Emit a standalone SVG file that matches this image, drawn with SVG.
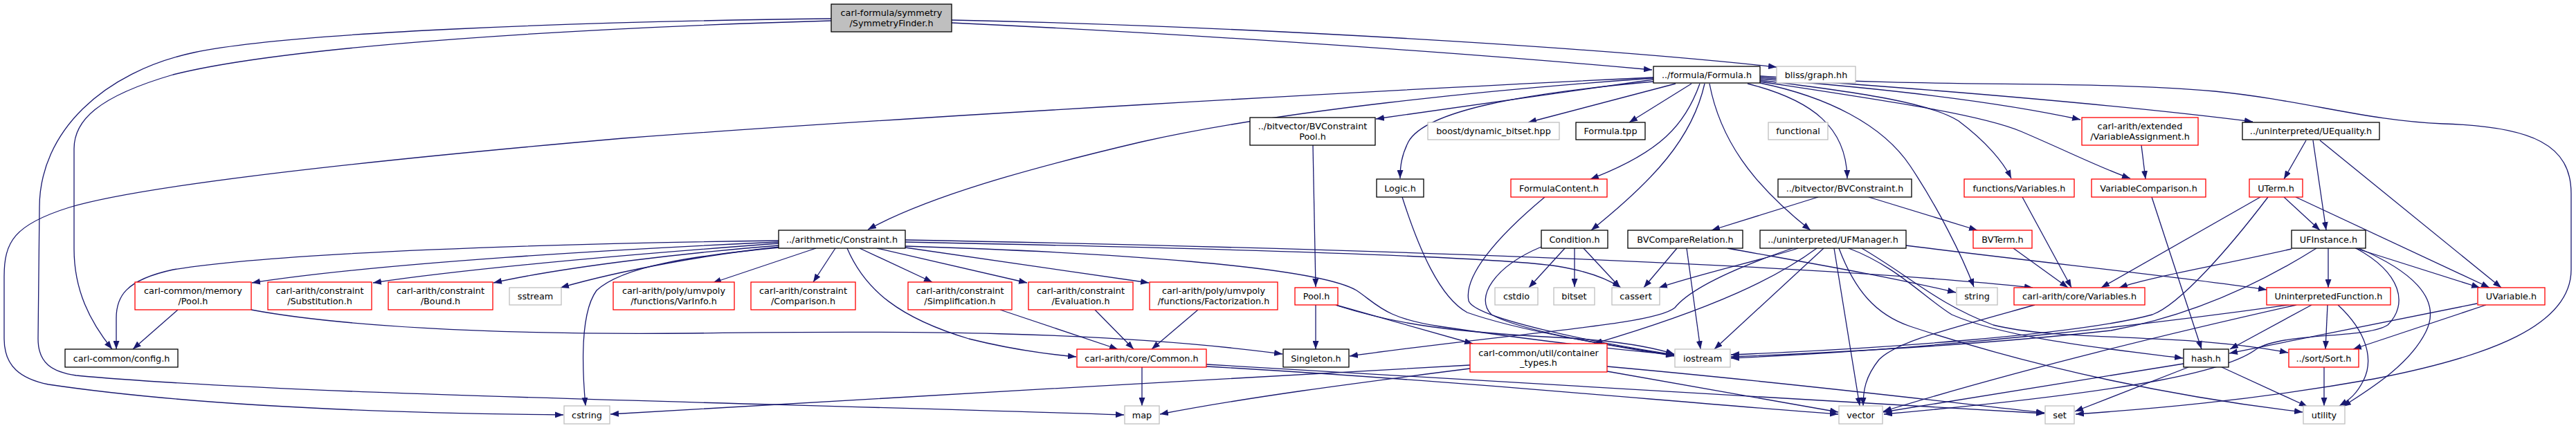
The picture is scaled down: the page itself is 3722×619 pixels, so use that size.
<svg xmlns="http://www.w3.org/2000/svg" width="3722" height="619" viewBox="0 0 3722 619">
<style>
rect{stroke-width:1.3}
.b rect{fill:#fff;stroke:#000}
.g rect{fill:#fff;stroke:#bfbfbf}
.r rect{fill:#fff;stroke:#f00}
.s rect{fill:#bfbfbf;stroke:#000}
text{font-family:"DejaVu Sans","Liberation Sans",sans-serif;font-size:12.8px;text-anchor:middle;fill:#000}
#edges path{fill:none;stroke:#191970;stroke-width:1.3;marker-end:url(#a)}
</style>
<defs>
<marker id="a" markerWidth="12" markerHeight="9" refX="12" refY="4.5" orient="auto" markerUnits="userSpaceOnUse">
<path d="M0,0 L12,4.5 L0,9 z" fill="#191970"/>
</marker>
</defs>
<rect x="0" y="0" width="3722" height="619" fill="#fff" style="stroke:none"/>
<g id="edges">
<path d="M1375,33 C1700,48 2100,75 2387,101"/>
<path d="M1375,29 C1800,38 2300,68 2567,97"/>
<path d="M1201,30 C850,40 420,65 250,108 C140,140 107,175 107,215 L107,360 C107,420 130,465 162,505"/>
<path d="M1201,27 C850,31 420,46 280,76 C150,104 57,190 57,300 L55,490 C55,525 75,538 110,543 C400,570 1000,580 1624,600"/>
<path d="M2389,112 C2000,130 1300,170 900,200 C500,235 200,270 100,300 C20,325 6,350 6,400 L6,490 C6,530 30,548 70,556 C300,590 600,598 814,600"/>
<path d="M2389,113 C2150,130 1850,160 1650,205 C1480,245 1340,285 1254,332"/>
<path d="M2389,115 L1988,172"/>
<path d="M2389,118 C2200,135 2060,160 2035,205 C2025,225 2023,240 2023,258"/>
<path d="M2421,121 L2208,177"/>
<path d="M2444,121 L2354,177"/>
<path d="M2456,121 C2435,180 2400,220 2298,259"/>
<path d="M2463,121 C2445,200 2390,260 2299,333"/>
<path d="M2470,121 C2485,200 2530,265 2616,333"/>
<path d="M2525,121 C2620,145 2668,185 2669,258"/>
<path d="M2543,120 C2640,140 2720,180 2760,240 C2800,300 2835,370 2852,415"/>
<path d="M2543,116 C2700,135 2790,150 2830,175 C2870,205 2895,235 2906,258"/>
<path d="M2543,118 C2720,145 2860,165 2920,190 C2990,220 3040,245 3078,258"/>
<path d="M2543,114 C2750,130 2900,150 3006,173"/>
<path d="M2543,112 C2800,130 3050,150 3255,176"/>
<path d="M2543,110 C2800,128 3000,115 3200,132 C3330,145 3420,175 3530,179 C3660,183 3715,210 3715,280 L3715,390 C3715,470 3600,515 3430,548 C3250,580 3100,592 2999,599"/>
<path d="M1897,210 L1901,415"/>
<path d="M2026,285 C2050,360 2080,430 2120,452 C2200,480 2330,500 2419,514"/>
<path d="M2232,285 C2160,345 2115,400 2122,435 C2130,460 2300,495 2419,513"/>
<path d="M2227,357 C2160,385 2130,430 2155,455 C2200,480 2330,500 2419,515"/>
<path d="M2261,359 L2209,416"/>
<path d="M2275,359 L2275,415"/>
<path d="M2288,359 L2341,416"/>
<path d="M2423,359 L2375,416"/>
<path d="M2437,359 L2457,505"/>
<path d="M2496,359 C2600,378 2720,398 2826,423"/>
<path d="M2598,359 C2550,375 2460,395 2397,416"/>
<path d="M2590,359 C2500,390 2440,420 2420,445 C2390,470 2200,480 1950,515"/>
<path d="M2625,359 C2570,400 2480,445 2303,497"/>
<path d="M2635,359 L2477,505"/>
<path d="M2650,359 L2687,587"/>
<path d="M2657,359 C2680,420 2710,455 2760,472 C2950,535 3150,575 3327,596"/>
<path d="M2671,359 C2740,385 2780,430 2820,455 C2900,490 3050,505 3154,518"/>
<path d="M2690,359 C2760,400 2800,440 2880,470 C2980,495 3150,480 3306,510"/>
<path d="M2754,355 C2950,380 3150,400 3275,419"/>
<path d="M1901,441 L1901,505"/>
<path d="M1930,441 L2128,497"/>
<path d="M1932,442 C2020,470 2100,480 2250,488 C2330,492 2380,500 2419,512"/>
<path d="M257,448 L192,505"/>
<path d="M363,448 C480,470 700,485 1000,482 C1300,478 1600,478 1853,512"/>
<path d="M1125,348 C800,352 400,365 250,390 C180,405 168,430 168,460 L168,505"/>
<path d="M1125,350 C900,360 550,380 364,409"/>
<path d="M1125,352 C950,365 700,385 539,409"/>
<path d="M1125,355 C1000,365 820,385 713,409"/>
<path d="M1127,357 C1030,367 900,390 810,416"/>
<path d="M1126,358 C1000,370 900,385 862,420 C840,450 840,520 846,587"/>
<path d="M1179,359 L1030,409"/>
<path d="M1207,359 L1175,408"/>
<path d="M1242,359 L1347,408"/>
<path d="M1267,359 L1484,409"/>
<path d="M1308,358 L1660,409"/>
<path d="M1224,359 C1250,420 1300,460 1400,490 C1460,505 1510,512 1555,516"/>
<path d="M1308,350 C1700,358 2150,370 2250,385 C2300,393 2325,405 2342,416"/>
<path d="M1308,347 C1900,358 2600,380 2937,416"/>
<path d="M1308,356 C1600,365 1900,385 1960,420 C1990,440 2000,460 2080,472 C2200,490 2330,505 2419,513"/>
<path d="M1445,448 L1615,505"/>
<path d="M1582,448 L1638,505"/>
<path d="M1731,448 L1664,505"/>
<path d="M1650,531 L1650,587"/>
<path d="M1743,530 C2100,550 2400,580 2656,599"/>
<path d="M1743,527 C2200,550 2600,578 2954,598"/>
<path d="M2322,537 L2656,596"/>
<path d="M2322,530 C2600,555 2800,580 2954,597"/>
<path d="M2124,528 C1800,546 1200,580 882,599"/>
<path d="M2124,533 C1950,555 1800,575 1676,599"/>
<path d="M2940,441 C2800,480 2740,495 2715,520 C2695,545 2692,565 2692,587"/>
<path d="M2909,359 L2988,416"/>
<path d="M2922,285 L2993,416"/>
<path d="M3266,285 L3036,416"/>
<path d="M3311,360 C3200,385 3110,400 3062,416"/>
<path d="M2627,285 L2473,333"/>
<path d="M2700,285 L2857,333"/>
<path d="M3094,210 L3100,259"/>
<path d="M3109,285 L3181,505"/>
<path d="M3332,203 L3300,259"/>
<path d="M3342,203 L3361,333"/>
<path d="M3352,203 L3614,416"/>
<path d="M3300,285 L3352,333"/>
<path d="M3317,285 L3597,416"/>
<path d="M3277,285 C3220,360 3150,440 3110,455 C3000,485 2700,505 2501,513"/>
<path d="M3347,359 C3250,420 3150,460 3050,478 C2850,500 2650,510 2501,516"/>
<path d="M3364,359 L3364,416"/>
<path d="M3403,359 L3583,416"/>
<path d="M3408,359 C3480,390 3530,430 3505,480 C3480,530 3420,565 3385,588"/>
<path d="M3404,359 C3470,395 3480,440 3450,470 C3420,490 3300,480 3260,505 C3220,535 3100,565 2722,599"/>
<path d="M3307,441 C3100,470 2800,505 2501,518"/>
<path d="M3318,441 C3100,490 2900,540 2721,595"/>
<path d="M3340,441 L3222,505"/>
<path d="M3363,441 L3360,505"/>
<path d="M3378,441 C3420,480 3430,520 3415,550 C3405,570 3395,578 3380,587"/>
<path d="M3579,439 L3221,511"/>
<path d="M3592,441 L3400,505"/>
<path d="M3155,526 L2721,596"/>
<path d="M3162,531 L2998,595"/>
<path d="M3210,531 L3334,588"/>
<path d="M3358,531 L3358,587"/>
</g>
<g id="n1" class="s"><rect x="1201" y="6" width="174" height="40"/><text x="1288" y="23.3">carl-formula/symmetry</text><text x="1288" y="37.6">/SymmetryFinder.h</text></g>
<g id="n2" class="b"><rect x="2389" y="96" width="154" height="24"/><text x="2466" y="112.6">../formula/Formula.h</text></g>
<g id="n3" class="g"><rect x="2567" y="96" width="114" height="24"/><text x="2624" y="112.6">bliss/graph.hh</text></g>
<g id="n4" class="b"><rect x="1806" y="170" width="181" height="40"/><text x="1896.5" y="187.3">../bitvector/BVConstraint</text><text x="1896.5" y="201.6">Pool.h</text></g>
<g id="n5" class="g"><rect x="2063" y="177" width="190" height="25"/><text x="2158" y="194">boost/dynamic_bitset.hpp</text></g>
<g id="n6" class="b"><rect x="2277" y="177" width="100" height="25"/><text x="2327" y="194">Formula.tpp</text></g>
<g id="n7" class="g"><rect x="2555" y="177" width="86" height="25"/><text x="2598" y="194">functional</text></g>
<g id="n8" class="b"><rect x="2569" y="259" width="193" height="26"/><text x="2665.5" y="276.6">../bitvector/BVConstraint.h</text></g>
<g id="n9" class="b"><rect x="1989" y="259" width="68" height="26"/><text x="2023" y="276.6">Logic.h</text></g>
<g id="n10" class="r"><rect x="2183" y="259" width="139" height="26"/><text x="2252.5" y="276.6">FormulaContent.h</text></g>
<g id="n11" class="r"><rect x="3008" y="170" width="168" height="40"/><text x="3092" y="187.3">carl-arith/extended</text><text x="3092" y="201.6">/VariableAssignment.h</text></g>
<g id="n12" class="b"><rect x="3240" y="177" width="198" height="25"/><text x="3339" y="194">../uninterpreted/UEquality.h</text></g>
<g id="n13" class="r"><rect x="2838" y="259" width="159" height="26"/><text x="2917.5" y="276.6">functions/Variables.h</text></g>
<g id="n14" class="r"><rect x="3022" y="259" width="165" height="26"/><text x="3104.5" y="276.6">VariableComparison.h</text></g>
<g id="n15" class="r"><rect x="3250" y="259" width="77" height="26"/><text x="3288.5" y="276.6">UTerm.h</text></g>
<g id="n16" class="r"><rect x="195" y="408" width="168" height="40"/><text x="279" y="425.3">carl-common/memory</text><text x="279" y="439.6">/Pool.h</text></g>
<g id="n17" class="r"><rect x="387" y="408" width="150" height="40"/><text x="462" y="425.3">carl-arith/constraint</text><text x="462" y="439.6">/Substitution.h</text></g>
<g id="n18" class="r"><rect x="561" y="408" width="151" height="40"/><text x="636.5" y="425.3">carl-arith/constraint</text><text x="636.5" y="439.6">/Bound.h</text></g>
<g id="n19" class="g"><rect x="736" y="416" width="75" height="25"/><text x="773.5" y="433">sstream</text></g>
<g id="n20" class="r"><rect x="886" y="408" width="175" height="40"/><text x="973.5" y="425.3">carl-arith/poly/umvpoly</text><text x="973.5" y="439.6">/functions/VarInfo.h</text></g>
<g id="n21" class="b"><rect x="94" y="505" width="163" height="26"/><text x="175.5" y="522.6">carl-common/config.h</text></g>
<g id="n22" class="g"><rect x="815" y="587" width="66" height="26"/><text x="848" y="604.6">cstring</text></g>
<g id="n23" class="b"><rect x="1125" y="333" width="183" height="26"/><text x="1216.5" y="350.6">../arithmetic/Constraint.h</text></g>
<g id="n24" class="r"><rect x="1085" y="408" width="151" height="40"/><text x="1160.5" y="425.3">carl-arith/constraint</text><text x="1160.5" y="439.6">/Comparison.h</text></g>
<g id="n25" class="r"><rect x="1312" y="408" width="150" height="40"/><text x="1387" y="425.3">carl-arith/constraint</text><text x="1387" y="439.6">/Simplification.h</text></g>
<g id="n26" class="r"><rect x="1486" y="408" width="151" height="40"/><text x="1561.5" y="425.3">carl-arith/constraint</text><text x="1561.5" y="439.6">/Evaluation.h</text></g>
<g id="n27" class="r"><rect x="1661" y="408" width="185" height="40"/><text x="1753.5" y="425.3">carl-arith/poly/umvpoly</text><text x="1753.5" y="439.6">/functions/Factorization.h</text></g>
<g id="n28" class="r"><rect x="1556" y="505" width="187" height="26"/><text x="1649.5" y="522.6">carl-arith/core/Common.h</text></g>
<g id="n29" class="g"><rect x="1625" y="587" width="50" height="26"/><text x="1650" y="604.6">map</text></g>
<g id="n30" class="r"><rect x="1871" y="416" width="62" height="25"/><text x="1902" y="433">Pool.h</text></g>
<g id="n31" class="b"><rect x="1854" y="505" width="95" height="26"/><text x="1901.5" y="522.6">Singleton.h</text></g>
<g id="n32" class="r"><rect x="2124" y="497" width="198" height="41"/><text x="2223" y="514.8">carl-common/util/container</text><text x="2223" y="529.4">_types.h</text></g>
<g id="n33" class="g"><rect x="2420" y="505" width="80" height="26"/><text x="2460" y="522.6">iostream</text></g>
<g id="n34" class="g"><rect x="2657" y="587" width="63" height="26"/><text x="2688.5" y="604.6">vector</text></g>
<g id="n35" class="b"><rect x="2227" y="333" width="96" height="26"/><text x="2275" y="350.6">Condition.h</text></g>
<g id="n36" class="b"><rect x="2352" y="333" width="166" height="26"/><text x="2435" y="350.6">BVCompareRelation.h</text></g>
<g id="n37" class="b"><rect x="2543" y="333" width="211" height="26"/><text x="2648.5" y="350.6">../uninterpreted/UFManager.h</text></g>
<g id="n38" class="g"><rect x="2160" y="416" width="62" height="25"/><text x="2191" y="433">cstdio</text></g>
<g id="n39" class="g"><rect x="2245" y="416" width="59" height="25"/><text x="2274.5" y="433">bitset</text></g>
<g id="n40" class="g"><rect x="2329" y="416" width="69" height="25"/><text x="2363.5" y="433">cassert</text></g>
<g id="n41" class="r"><rect x="2851" y="333" width="85" height="26"/><text x="2893.5" y="350.6">BVTerm.h</text></g>
<g id="n42" class="b"><rect x="3311" y="333" width="107" height="26"/><text x="3364.5" y="350.6">UFInstance.h</text></g>
<g id="n43" class="g"><rect x="2827" y="416" width="59" height="25"/><text x="2856.5" y="433">string</text></g>
<g id="n44" class="r"><rect x="2910" y="416" width="189" height="25"/><text x="3004.5" y="433">carl-arith/core/Variables.h</text></g>
<g id="n45" class="r"><rect x="3275" y="416" width="179" height="25"/><text x="3364.5" y="433">UninterpretedFunction.h</text></g>
<g id="n46" class="r"><rect x="3580" y="416" width="97" height="25"/><text x="3628.5" y="433">UVariable.h</text></g>
<g id="n47" class="b"><rect x="3155" y="505" width="65" height="26"/><text x="3187.5" y="522.6">hash.h</text></g>
<g id="n48" class="r"><rect x="3307" y="505" width="101" height="26"/><text x="3357.5" y="522.6">../sort/Sort.h</text></g>
<g id="n49" class="g"><rect x="2955" y="587" width="42" height="26"/><text x="2976" y="604.6">set</text></g>
<g id="n50" class="g"><rect x="3328" y="587" width="60" height="26"/><text x="3358" y="604.6">utility</text></g>
</svg>
